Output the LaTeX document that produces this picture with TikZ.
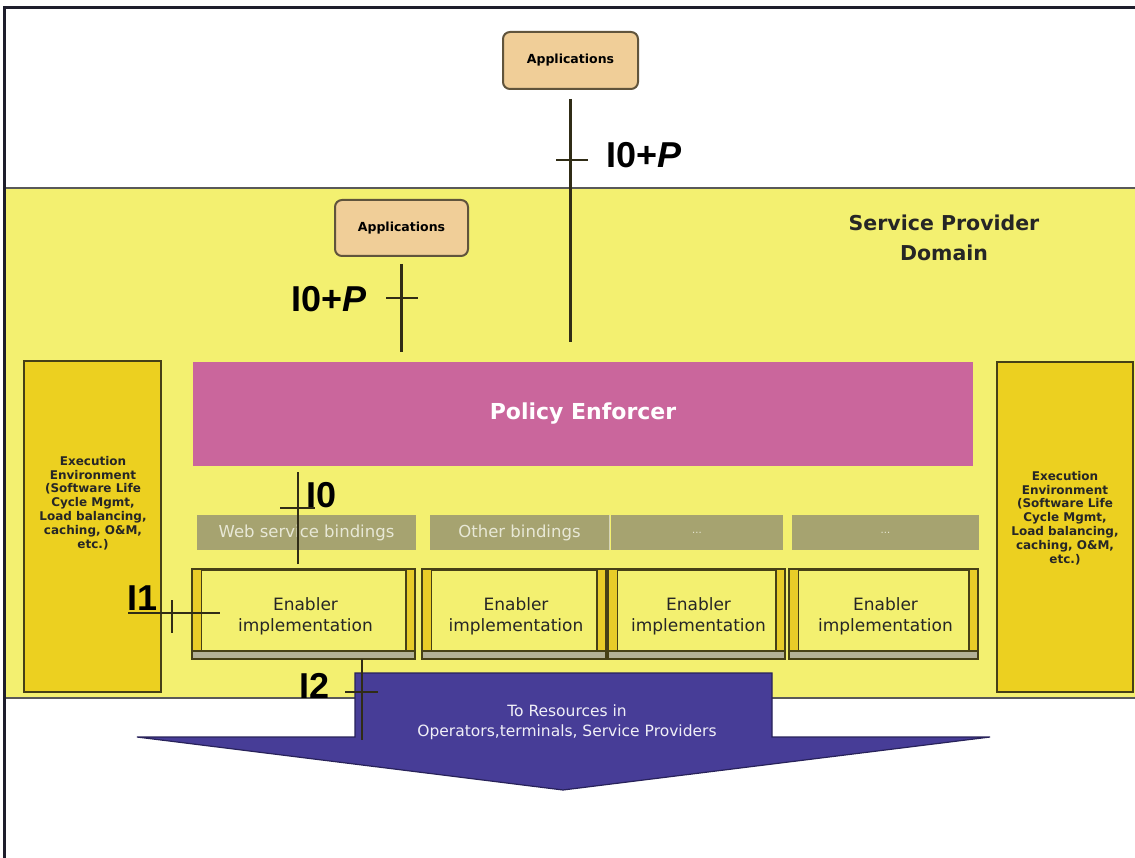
\documentclass[tikz,border=0pt]{standalone}
\usepackage{fontspec}
\setmainfont{DejaVu Sans}
\newfontfamily\ifacefont{Liberation Sans}
\usetikzlibrary{calc}

\definecolor{domainyellow}{RGB}{243,240,112}
\definecolor{envgold}{RGB}{236,208,32}
\definecolor{envedge}{RGB}{70,64,22}
\definecolor{pepink}{RGB}{202,102,156}
\definecolor{bindgray}{RGB}{166,163,112}
\definecolor{bindtext}{RGB}{232,232,214}
\definecolor{apptan}{RGB}{240,206,152}
\definecolor{appedge}{RGB}{96,84,60}
\definecolor{stripgold}{RGB}{232,204,40}
\definecolor{shelfgray}{RGB}{178,176,150}
\definecolor{arrowblue}{RGB}{71,61,151}
\definecolor{arrowedge}{RGB}{40,34,90}
\definecolor{lineink}{RGB}{48,44,22}
\definecolor{frameink}{RGB}{30,30,44}

\tikzset{
  appbox/.style={draw=appedge, fill=apptan, line width=2pt, rounded corners=7pt,
    inner sep=0pt, font=\fontsize{12.5}{14}\selectfont\bfseries},
  envbox/.style={draw=envedge, fill=envgold, line width=2.2pt, inner sep=0pt,
    minimum width=137pt, minimum height=331pt},
  envtext/.style={align=center, inner sep=0pt, text=black!85,
    font=\fontsize{12}{13.8}\selectfont\bfseries},
  enforcer/.style={fill=pepink, inner sep=0pt, text=white,
    font=\fontsize{22}{26}\selectfont\bfseries},
  bindbar/.style={fill=bindgray, inner sep=0pt, minimum height=35pt, text=bindtext,
    font=\fontsize{16.5}{18}\selectfont},
  enabler/.style={draw=envedge, line width=1.8pt, inner sep=0pt, minimum height=88pt,
    align=center, text=black!85, font=\fontsize{17}{21}\selectfont},
  strip/.style={fill=stripgold, draw=envedge, line width=1.2pt},
  shelf/.style={fill=shelfgray, draw=envedge, line width=1.2pt},
  iface/.style={draw=lineink, line width=2.4pt},
  tick/.style={draw=lineink, line width=2pt},
  ifacelabel/.style={anchor=base west, inner sep=0pt, text=black,
    font=\ifacefont\fontsize{36}{36}\selectfont\bfseries},
  arrowtext/.style={align=center, inner sep=0pt, text=white!92!arrowblue,
    font=\fontsize{15.5}{20}\selectfont}
}

\begin{document}
\begin{tikzpicture}[x=1pt,y=-1pt]
  \useasboundingbox (0,0) rectangle (1135,858);
  \fill[white] (0,0) rectangle (1135,858);

  % service provider domain band
  \fill[domainyellow] (5,188) rectangle (1135,698);
  \draw[draw=black!65, line width=2.6pt] (5,188) -- (1135,188);
  \draw[draw=black!65, line width=2.6pt] (5,698) -- (1135,698);

  % outer frame
  \draw[frameink, line width=3pt] (1135,8) -- (4,8) -- (4,858);

  \node[anchor=center, align=center, inner sep=0pt, text=black!85,
        font=\fontsize{20.5}{30}\selectfont\bfseries] (domain) at (944,238)
        {Service Provider\\Domain};

  % applications
  \node[appbox, minimum width=135pt, minimum height=57pt] (appTop) at (570.5,60.5) {Applications};
  \node[appbox, minimum width=133pt, minimum height=56pt] (appIn) at (401.5,228) {Applications};

  % execution environments
  \node[envbox] (envL) at (92.5,526.5) {};
  \node[envtext] (envLtext) at (93,503) {Execution\\Environment\\(Software Life\\Cycle Mgmt,\\Load balancing,\\caching, O\&M,\\etc.)};
  \node[envbox, minimum width=136pt, minimum height=330pt] (envR) at (1065,527) {};
  \node[envtext] (envRtext) at (1065,518) {Execution\\Environment\\(Software Life\\Cycle Mgmt,\\Load balancing,\\caching, O\&M,\\etc.)};

  % policy enforcer
  \node[enforcer, minimum width=780pt, minimum height=104pt] (pe) at (583,414) {Policy Enforcer};

  % bindings
  \node[bindbar, minimum width=219pt] (bWeb) at (306.5,532.5) {Web service bindings};
  \node[bindbar, minimum width=179pt] (bOther) at (519.5,532.5) {Other bindings};
  \node[bindbar, minimum width=172pt, font=\fontsize{10}{12}\selectfont] (bMore) at (697,532.5) {...};
  \node[bindbar, minimum width=187pt, font=\fontsize{10}{12}\selectfont] (bRest) at (885.5,532.5) {...};
  \draw[bindtext!70!bindgray, line width=1pt] (bOther.north east) -- (bOther.south east);

  % enabler implementations
  \foreach \nm/\cx/\w in {e1/303.5/221, e2/514/182, e3/696.5/175, e4/883.5/187} {
    \node[enabler, minimum width=\w pt] (\nm) at (\cx,614) {};
    \draw[shelf] ($(\nm.south west)+(0,-8)$) rectangle (\nm.south east);
    \draw[strip] (\nm.north west) rectangle ($(\nm.south west)+(9,-8)$);
    \draw[strip] ($(\nm.north east)+(-9,0)$) rectangle ($(\nm.south east)+(0,-8)$);
    \draw[envedge, line width=1.8pt] (\nm.north west) rectangle (\nm.south east);
    \node[enabler, draw=none, anchor=center] (\nm text) at ($(\nm.center)+(2,2)$) {Enabler\\implementation};
  }

  % downward arrow to resources
  \path[fill=arrowblue, draw=arrowedge, line width=1.2pt]
    (355,673) -- (772,673) -- (772,737) -- (990,737) -- (563,790) -- (137,737) -- (355,737) -- cycle;
  \node[arrowtext] (resources) at (567,722) {To Resources in\\Operators,terminals, Service Providers};

  % interface I0+P (external applications)
  \draw[iface, shorten <=9pt, shorten >=20pt] (appTop.south) -- (appTop.south |- pe.north);
  \draw[tick] (556,160) -- (588,160);
  \node[ifacelabel] (lblTop) at (606,168) {I0+\textit{P}};

  % interface I0+P (domain applications)
  \draw[iface, shorten <=7pt, shorten >=10pt] (appIn.south) -- (appIn.south |- pe.north);
  \draw[tick] (386,298) -- (418,298);
  \node[ifacelabel] (lblIn) at (291,312) {I0+\textit{P}};

  % interface I0
  \draw[iface, shorten <=5pt, shorten >=6pt] ([xshift=-5.5pt]e1.north) -- ([xshift=-5.5pt]e1.north |- pe.south);
  \draw[tick] (280,508) -- (315,508);
  \node[ifacelabel] (lblI0) at (306,507) {I0};

  % interface I1
  \coordinate (i1w) at (128,613);
  \coordinate (i1e) at (220,613);
  \draw[iface] (i1w) -- (i1e);
  \draw[tick] (172,600) -- (172,633);
  \node[ifacelabel] (lblI1) at (127,610) {I1};

  % interface I2
  \coordinate (i2end) at (362,740);
  \draw[iface] ([xshift=58.5pt]e1.south) -- (i2end);
  \draw[tick] (345,692) -- (378,692);
  \node[ifacelabel] (lblI2) at (299,698) {I2};
\end{tikzpicture}
\end{document}
